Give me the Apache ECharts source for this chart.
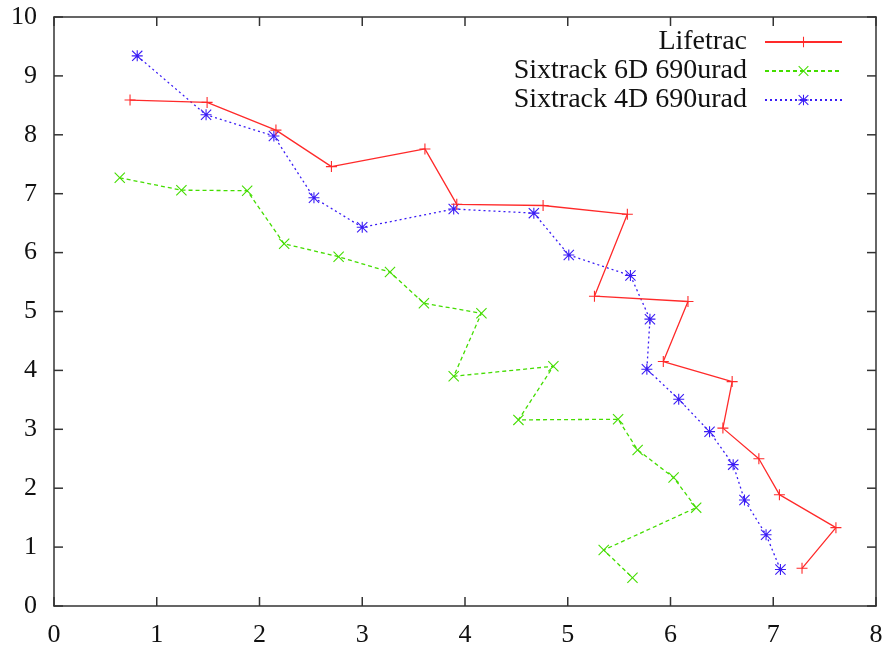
<!DOCTYPE html>
<html>
<head>
<meta charset="utf-8">
<script src="https://cdn.jsdelivr.net/npm/echarts@6/dist/echarts.min.js"></script>
<style>html,body{margin:0;padding:0;background:#fff}#c{width:888px;height:650px}</style>
</head>
<body>
<div id="c"></div>
<script>
// Data
const lifetracX = [0.74, 1.49, 2.16, 2.70, 3.61, 3.92, 4.76, 5.58, 5.26, 6.17, 5.93, 6.60, 6.51, 6.86, 7.06, 7.61, 7.28];
const lifetracY = [8.59, 8.55, 8.08, 7.46, 7.76, 6.82, 6.80, 6.65, 5.26, 5.17, 4.15, 3.81, 3.02, 2.50, 1.89, 1.33, 0.64];
const six6dX = [0.64, 1.24, 1.88, 2.24, 2.77, 3.27, 3.60, 4.16, 3.89, 4.86, 4.52, 5.49, 5.68, 6.03, 6.25, 5.35, 5.63];
const six6dY = [7.27, 7.06, 7.05, 6.15, 5.93, 5.67, 5.14, 4.97, 3.90, 4.07, 3.16, 3.17, 2.65, 2.18, 1.67, 0.95, 0.48];
const six4dX = [0.81, 1.48, 2.14, 2.53, 3.00, 3.89, 4.67, 5.01, 5.61, 5.80, 5.77, 6.08, 6.38, 6.61, 6.72, 6.93, 7.07];
const six4dY = [9.34, 8.34, 7.98, 6.93, 6.43, 6.74, 6.67, 5.96, 5.61, 4.87, 4.02, 3.51, 2.96, 2.40, 1.80, 1.21, 0.62];
const seriesNames = ['Lifetrac', 'Sixtrack 6D 690urad', 'Sixtrack 4D 690urad'];
const xTicks = [0, 1, 2, 3, 4, 5, 6, 7, 8];
const yTicks = [0, 1, 2, 3, 4, 5, 6, 7, 8, 9, 10];

const zip = (xs, ys) => xs.map((x, i) => [x, ys[i]]);

const PLUS = 'path://M9,0L11,0L11,9L20,9L20,11L11,11L11,20L9,20L9,11L0,11L0,9L9,9Z';
const CROSS = 'path://M0,1.4L1.4,0L10,8.6L18.6,0L20,1.4L11.4,10L20,18.6L18.6,20L10,11.4L1.4,20L0,18.6L8.6,10Z';
const STAR = 'path://M9,0L11,0L11,9L20,9L20,11L11,11L11,20L9,20L9,11L0,11L0,9L9,9Z M0,1.4L1.4,0L10,8.6L18.6,0L20,1.4L11.4,10L20,18.6L18.6,20L10,11.4L1.4,20L0,18.6L8.6,10Z';

const FONT = "'Liberation Serif', 'Times New Roman', serif";
const AXIS_COLOR = '#333';
const TICK_LEN = 9;
const mkLine = () => ({show: true, onZero: false, lineStyle: {color: AXIS_COLOR, width: 1.5}});
const noTick = () => ({show: false});

const chart = echarts.init(document.getElementById('c'), null, {renderer: 'canvas'});
chart.setOption({
  animation: false,
  backgroundColor: '#fff',
  grid: {left: 54, right: 12, top: 17, bottom: 44, containLabel: false},
  legend: {
    right: 40, top: 23, orient: 'vertical', align: 'right',
    itemWidth: 77, itemHeight: 13, itemGap: 1,
    textStyle: {fontFamily: FONT, fontSize: 28, lineHeight: 28, color: '#111', padding: [0, 13, 0, 0]},
    data: seriesNames
  },
  xAxis: [
    {type: 'value', min: xTicks[0], max: xTicks[xTicks.length - 1], interval: 1, position: 'bottom',
     axisLine: mkLine(), axisTick: noTick(), splitLine: {show: false},
     axisLabel: {fontFamily: FONT, fontSize: 26, color: '#111', margin: 16}},
    {type: 'value', min: xTicks[0], max: xTicks[xTicks.length - 1], interval: 1, position: 'top',
     axisLine: mkLine(), axisTick: noTick(), splitLine: {show: false}, axisLabel: {show: false}}
  ],
  yAxis: [
    {type: 'value', min: yTicks[0], max: yTicks[yTicks.length - 1], interval: 1, position: 'left',
     axisLine: mkLine(), axisTick: noTick(), splitLine: {show: false},
     axisLabel: {fontFamily: FONT, fontSize: 26, color: '#111', margin: 17}},
    {type: 'value', min: yTicks[0], max: yTicks[yTicks.length - 1], interval: 1, position: 'right',
     axisLine: mkLine(), axisTick: noTick(), splitLine: {show: false}, axisLabel: {show: false}}
  ],
  series: [
    {name: seriesNames[0], type: 'line', data: zip(lifetracX, lifetracY),
     symbol: PLUS, symbolSize: 11, showAllSymbol: true,
     lineStyle: {color: '#ff2a2a', width: 1.3, type: 'solid'},
     itemStyle: {color: '#ff2a2a'}, z: 3},
    {name: seriesNames[1], type: 'line', data: zip(six6dX, six6dY),
     symbol: CROSS, symbolSize: 11, showAllSymbol: true,
     lineStyle: {color: '#44dd00', width: 1.3, type: [4, 3]},
     itemStyle: {color: '#44dd00'}, z: 2},
    {name: seriesNames[2], type: 'line', data: zip(six4dX, six4dY),
     symbol: STAR, symbolSize: 11, showAllSymbol: true,
     lineStyle: {color: '#3a1cf5', width: 1.3, type: [2, 3]},
     itemStyle: {color: '#3a1cf5'}, z: 2}
  ]
});

// Inward-pointing ticks on all four sides (gnuplot style), positioned through the axes' scales
const tickStyle = {stroke: AXIS_COLOR, lineWidth: 1.5};
const yBottom = chart.convertToPixel({yAxisIndex: 0}, yTicks[0]);
const yTop = chart.convertToPixel({yAxisIndex: 0}, yTicks[yTicks.length - 1]);
const xLeft = chart.convertToPixel({xAxisIndex: 0}, xTicks[0]);
const xRight = chart.convertToPixel({xAxisIndex: 0}, xTicks[xTicks.length - 1]);
const ticks = [];
xTicks.forEach(v => {
  const px = chart.convertToPixel({xAxisIndex: 0}, v);
  ticks.push({type: 'line', shape: {x1: px, y1: yBottom, x2: px, y2: yBottom - TICK_LEN}, style: tickStyle, silent: true});
  ticks.push({type: 'line', shape: {x1: px, y1: yTop, x2: px, y2: yTop + TICK_LEN}, style: tickStyle, silent: true});
});
yTicks.forEach(v => {
  const py = chart.convertToPixel({yAxisIndex: 0}, v);
  ticks.push({type: 'line', shape: {x1: xLeft, y1: py, x2: xLeft + TICK_LEN, y2: py}, style: tickStyle, silent: true});
  ticks.push({type: 'line', shape: {x1: xRight, y1: py, x2: xRight - TICK_LEN, y2: py}, style: tickStyle, silent: true});
});
chart.setOption({graphic: ticks});
</script>
</body>
</html>
